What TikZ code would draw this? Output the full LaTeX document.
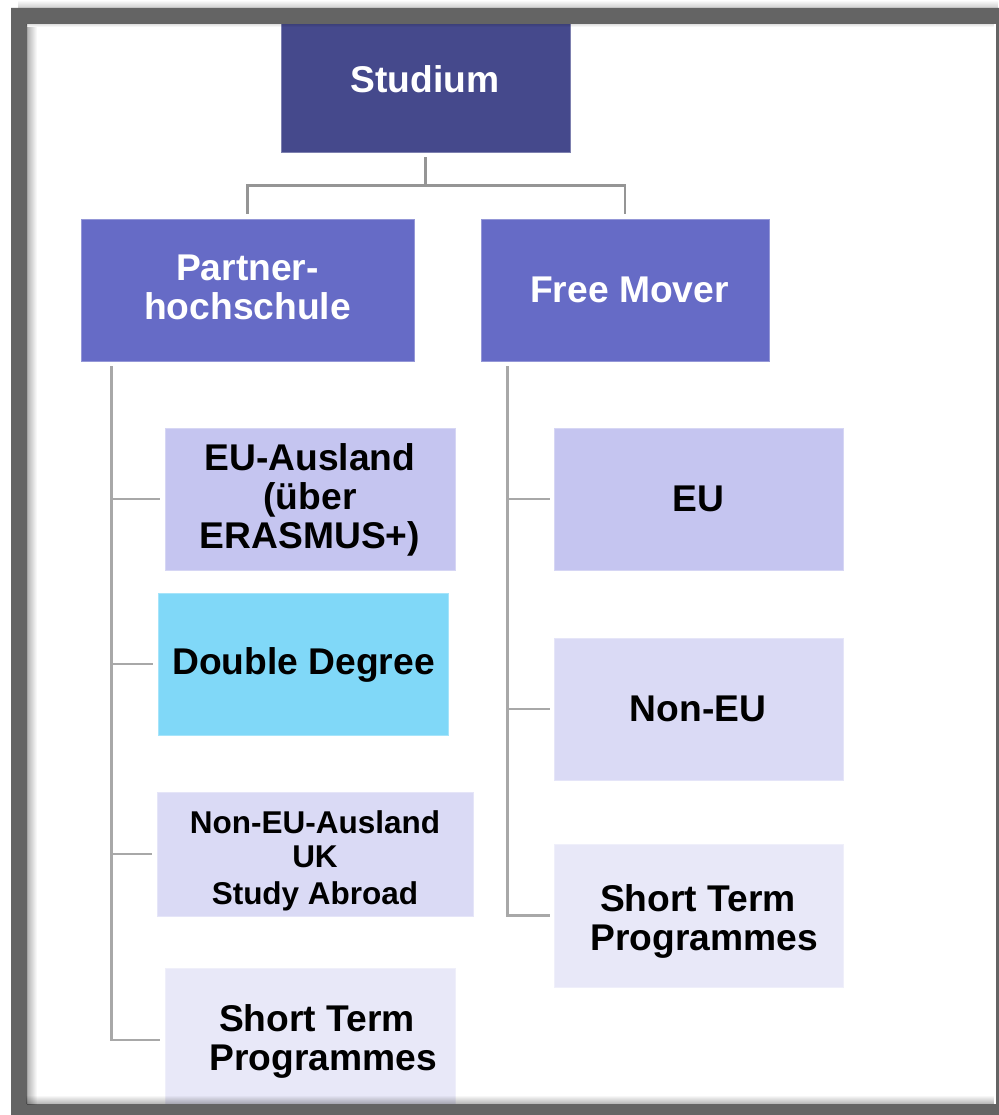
\documentclass[tikz,border=0pt]{standalone}
\usepackage{fontspec}
\setmainfont{Liberation Sans}
\usetikzlibrary{calc,fadings}
\definecolor{cStud}{HTML}{45498C}
\definecolor{cLvl}{HTML}{666BC6}
\definecolor{cA}{HTML}{C5C5F0}
\definecolor{cDD}{HTML}{80D8F8}
\definecolor{cB}{HTML}{DADAF5}
\definecolor{cC}{HTML}{E8E8F8}
\definecolor{cFrame}{HTML}{646464}
\definecolor{cLine}{HTML}{A8A8A8}
\definecolor{cLineTop}{HTML}{959595}
\begin{document}
\begin{tikzpicture}[x=1pt,y=-1pt,
  box/.style={rectangle, inner sep=0, fill=#1, draw=#1!70!white, line width=0.8pt},
  txt/.style={font=\bfseries\fontsize{37.2}{39}\selectfont, align=center, inner sep=0, text=black},
  conn/.style={draw=cLine, line width=2.6pt},
  conntop/.style={draw=cLineTop, line width=2.6pt}]
\useasboundingbox (0,0) rectangle (998,1115);
\fill[white] (0,0) rectangle (998,1115);

% boxes
\node[box=cStud, minimum width=289pt, minimum height=142pt] (studium) at (425.5,81) {};
\node[box=cLvl, minimum width=333pt, minimum height=142pt] (partner) at (247.5,290) {};
\node[box=cLvl, minimum width=288pt, minimum height=142pt] (free) at (625,290) {};
\node[box=cA, minimum width=290pt, minimum height=142pt] (euaus) at (310,499) {};
\node[box=cDD, minimum width=290pt, minimum height=142pt] (dd) at (303,664) {};
\node[box=cB, minimum width=316pt, minimum height=124pt] (noneuaus) at (315,854) {};
\node[box=cC, minimum width=290pt, minimum height=142pt] (stleft) at (310,1039) {};
\node[box=cA, minimum width=289pt, minimum height=142pt] (eu) at (698.5,499) {};
\node[box=cB, minimum width=289pt, minimum height=142pt] (noneu) at (698.5,709) {};
\node[box=cC, minimum width=289pt, minimum height=143pt] (stright) at (698.5,915.5) {};

% texts
\node[txt, text=white] (tstud) at (425,79) {Studium};
\node[txt, text=white] (tpartner) at (247.5,287.5) {Partner-\\hochschule};
\node[txt, text=white] (tfree) at (629.5,290) {Free Mover};
\node[txt] (teuaus) at (310,500) {EU-Ausland\\(über\\ERASMUS+)};
\node[txt] (tdd) at (303.5,664.5) {Double Degree};
\node[txt, font=\bfseries\fontsize{31.5}{34}\selectfont] (tnoneuaus) at (315,861) {Non-EU-Ausland\\UK\\[3pt]Study Abroad};
\node[txt] (tstleft) at (317,1041) {Short Term\\\hspace*{12pt}Programmes};
\node[txt] (teu) at (698.5,499) {EU};
\node[txt] (tnoneu) at (698,709) {Non-EU};
\node[txt] (tstright) at (698,921) {Short Term\\\hspace*{12pt}Programmes};

% connectors top level
\coordinate (hub) at ($(studium.south)+(0,33)$);
\draw[conntop] ($(studium.south)+(0,5)$) -- (hub);
\draw[conntop] ($(partner.north)+(0,-5)$) |- (hub) -| ($(free.north)+(0,-5)$);

% left trunk
\coordinate (ltrunk) at ($(partner.south west)+(31,5)$);
\draw[conn] (ltrunk) |- ($(euaus.west)+(-5,0)$);
\draw[conn] (ltrunk) |- ($(dd.west)+(-5,0)$);
\draw[conn] (ltrunk) |- ($(noneuaus.west)+(-5,0)$);
\draw[conn] (ltrunk) |- ($(stleft.west)+(-5,1)$);

% right trunk
\coordinate (rtrunk) at ($(free.south west)+(27,5)$);
\draw[conn] (rtrunk) |- ($(eu.west)+(-4,0)$);
\draw[conn] (rtrunk) |- ($(noneu.west)+(-4,0)$);
\draw[conn] (rtrunk) |- ($(stright.west)+(-4,0)$);

% frame
\fill[black, opacity=0.2, path fading=north] (18,0) rectangle (998,8);
\fill[cFrame, even odd rule] (11,8) rectangle (1030,1140) (27,24) rectangle (996,1104);
\fill[black, opacity=0.3, path fading=east] (27,24) rectangle (37,1104);
\fill[black, opacity=0.3, path fading=north] (27,1095) rectangle (996,1104);
\fill[black, opacity=0.12, path fading=south] (27,24) rectangle (996,27);
\end{tikzpicture}
\end{document}
